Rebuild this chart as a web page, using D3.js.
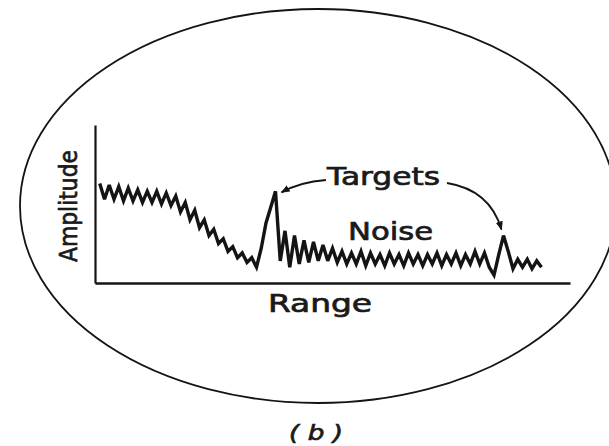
<!DOCTYPE html>
<html>
<head>
<meta charset="utf-8">
<script src="https://cdn.jsdelivr.net/npm/d3@7"></script>
<style>
  html, body { margin: 0; padding: 0; background: #fff; }
  svg { display: block; }
  text { font-family: "DejaVu Sans", sans-serif; fill: #1a1a1a; stroke: #1a1a1a; stroke-width: 0.7px; }
</style>
</head>
<body>
<svg id="chart" width="609" height="446"></svg>
<script>
// Range bins (arbitrary units) and received amplitude at each bin
const rangeBins = d3.range(1, 95);
const amplitude = [
  63, 53, 62, 53, 61, 52, 60, 52, 59, 51, 58, 51, 58, 50, 57,
  49, 55, 45, 51, 40, 46, 35, 40, 30, 34, 25, 28, 20, 23, 16, 19, 13, 16, 10,
  22, 38, 48, 58, 14, 33, 10, 30, 12, 27, 13, 26, 14, 24, 14, 22, 13, 20,
  12, 19, 12, 20, 11, 19, 12, 18, 11, 19, 12, 18, 11, 19, 12, 18, 11, 18,
  12, 19, 11, 18, 12, 19, 11, 18, 12, 20, 12, 19, 10, 5,
  18, 30, 20, 9, 15, 10, 15, 9, 14, 10
];
// Annotated echoes: [range bin, label]
const targetBins = [38, 86];
const axisTitles = { x: "Range", y: "Amplitude" };
const noiseLabel = "Noise";
const targetLabel = "Targets";
const panelLabel = "( b )";

const svg = d3.select("#chart");
const ink = "#141414";

// Oval scope face
svg.append("ellipse")
  .attr("cx", 318).attr("cy", 206)
  .attr("rx", 298).attr("ry", 197)
  .attr("fill", "none").attr("stroke", ink).attr("stroke-width", 1.8);

const x = d3.scaleLinear().domain([0, 100]).range([95, 570]);
const y = d3.scaleLinear().domain([0, 100]).range([283, 125]);

// Axes without ticks
svg.append("g")
  .attr("transform", `translate(0,${y(0)})`)
  .call(d3.axisBottom(x).ticks(0).tickSize(0).tickSizeOuter(0))
  .call(g => g.select(".domain").attr("stroke", ink).attr("stroke-width", 2.4));
svg.append("g")
  .attr("transform", `translate(${x(0)},0)`)
  .call(d3.axisLeft(y).ticks(0).tickSize(0).tickSizeOuter(0))
  .call(g => g.select(".domain").attr("stroke", ink).attr("stroke-width", 2.2));

// Return signal trace
const pts = rangeBins.map((r, i) => [r, amplitude[i]]);
svg.append("path")
  .datum(pts)
  .attr("fill", "none")
  .attr("stroke", ink)
  .attr("stroke-width", 3.4)
  .attr("stroke-linejoin", "miter")
  .attr("stroke-miterlimit", 3)
  .attr("d", d3.line().x(d => x(d[0])).y(d => y(d[1])));

// Axis titles
svg.append("text")
  .attr("x", 268).attr("y", 312)
  .attr("font-size", 24)
  .attr("textLength", 104).attr("lengthAdjust", "spacingAndGlyphs")
  .text(axisTitles.x);
svg.append("text")
  .attr("transform", "translate(77,206) rotate(-90)")
  .attr("text-anchor", "middle")
  .attr("font-size", 24)
  .attr("textLength", 112).attr("lengthAdjust", "spacingAndGlyphs")
  .text(axisTitles.y);

// Annotations
svg.append("text")
  .attr("x", 348).attr("y", 240)
  .attr("font-size", 24)
  .attr("textLength", 85).attr("lengthAdjust", "spacingAndGlyphs")
  .text(noiseLabel);
svg.append("text")
  .attr("x", 327).attr("y", 185)
  .attr("font-size", 24)
  .attr("textLength", 113).attr("lengthAdjust", "spacingAndGlyphs")
  .text(targetLabel);

svg.append("defs").append("marker")
  .attr("id", "head")
  .attr("viewBox", "0 0 10 10")
  .attr("refX", 9).attr("refY", 5)
  .attr("markerWidth", 5).attr("markerHeight", 5)
  .attr("orient", "auto")
  .append("path").attr("d", "M0,1 L10,5 L0,9 Z").attr("fill", ink);

const tipIdx = targetBins.map(b => rangeBins.indexOf(b));
const tips = tipIdx.map(i => [x(rangeBins[i]), y(amplitude[i])]);

// Leader from the left of the label to the first echo
svg.append("path")
  .attr("fill", "none").attr("stroke", ink).attr("stroke-width", 1.8)
  .attr("marker-end", "url(#head)")
  .attr("d", `M326,180 Q300,182 ${tips[0][0] + 6},${tips[0][1] + 1}`);
// Leader from the right of the label to the second echo
svg.append("path")
  .attr("fill", "none").attr("stroke", ink).attr("stroke-width", 1.8)
  .attr("marker-end", "url(#head)")
  .attr("d", `M447,183 Q490,190 ${tips[1][0] - 2},${tips[1][1] - 6}`);

// Panel caption
svg.append("text")
  .attr("x", 316).attr("y", 440)
  .attr("text-anchor", "middle")
  .attr("font-size", 22)
  .attr("font-style", "italic")
  .attr("textLength", 54).attr("lengthAdjust", "spacingAndGlyphs")
  .text(panelLabel);
</script>
</body>
</html>
